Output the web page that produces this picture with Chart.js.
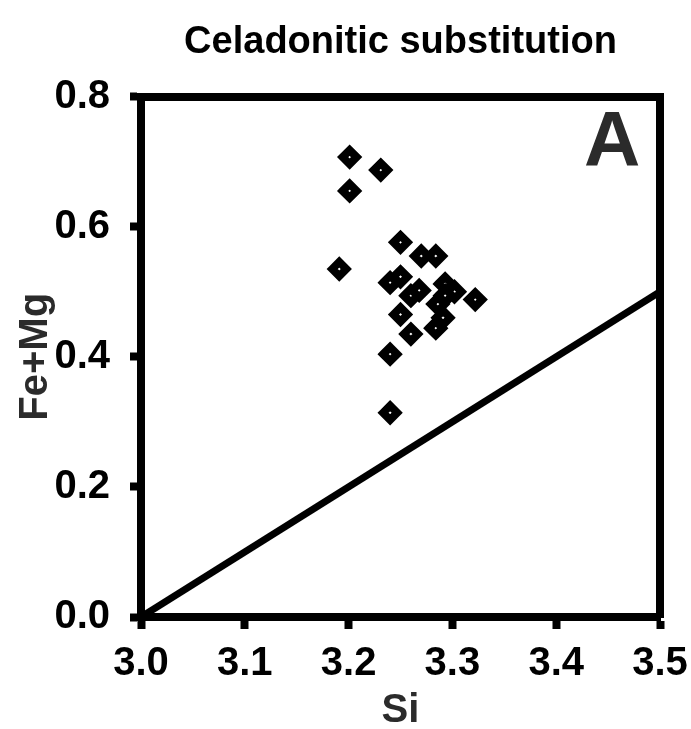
<!DOCTYPE html>
<html>
<head>
<meta charset="utf-8">
<script src="https://cdn.jsdelivr.net/npm/chart.js@4"></script>
<style>
  html, body { margin: 0; padding: 0; background: #fff; }
  #wrap { width: 691px; height: 729px; }
</style>
</head>
<body>
<div id="wrap"><canvas id="chart" width="691" height="729"></canvas></div>
<script>
// values
var chartTitle = 'Celadonitic substitution'
var xTitle = 'Si'
var yTitle = 'Fe+Mg'
var panelLabel = 'A'

var siValues = [3.201, 3.231, 3.201, 3.250, 3.270, 3.284, 3.191, 3.240, 3.250,
  3.260, 3.268, 3.293, 3.302, 3.286, 3.291, 3.293, 3.250, 3.260, 3.284, 3.322,
  3.240, 3.240]
var feMgValues = [0.707, 0.687, 0.655, 0.576, 0.555, 0.555, 0.535, 0.514, 0.523,
  0.494, 0.502, 0.512, 0.500, 0.481, 0.460, 0.494, 0.465, 0.435, 0.444, 0.488,
  0.404, 0.314]

// 1:1 celadonitic line
var lineSi = [3.0, 3.5]
var lineFeMg = [0.0, 0.5]

var xTicks = [3.0, 3.1, 3.2, 3.3, 3.4, 3.5]
var yTicks = [0.0, 0.2, 0.4, 0.6, 0.8]

// where the panel letter sits, in data units
var labelSi = 3.454
var labelFeMg = 0.726

var fontFamily = "'Liberation Sans', Arial, sans-serif"

function toPoints (xs, ys) {
  var pts = []
  for (var i = 0; i < xs.length; i++) {
    pts.push({ x: xs[i], y: ys[i] })
  }
  return pts
}

var panelLabelPlugin = {
  id: 'panelLabel',
  afterDraw: function (chart) {
    var ctx = chart.ctx
    var px = chart.scales.x.getPixelForValue(labelSi)
    var py = chart.scales.y.getPixelForValue(labelFeMg)
    ctx.save()
    ctx.font = 'bold 78px ' + fontFamily
    ctx.fillStyle = '#2b2b2b'
    ctx.textAlign = 'center'
    ctx.textBaseline = 'middle'
    ctx.fillText(panelLabel, px, py)
    ctx.restore()
  }
}

var frameOnly = {
  display: true,
  ticks: { display: false },
  grid: { display: false, drawTicks: false },
  border: { display: true, color: '#000', width: 8 }
}

new Chart(document.getElementById('chart'), {
  type: 'scatter',
  data: {
    datasets: [{
      label: 'line',
      data: toPoints(lineSi, lineFeMg),
      showLine: true,
      borderColor: '#000',
      borderWidth: 7,
      pointRadius: 4,
      pointBackgroundColor: '#000',
      pointBorderWidth: 0,
      clip: false,
      order: 2
    }, {
      label: 'samples',
      data: toPoints(siValues, feMgValues),
      pointStyle: 'rectRot',
      pointRadius: 7,
      pointBorderWidth: 8,
      pointBorderColor: '#000',
      pointBackgroundColor: '#fff',
      order: 1
    }]
  },
  options: {
    responsive: false,
    animation: false,
    layout: { padding: 0 },
    plugins: {
      legend: { display: false },
      tooltip: { enabled: false },
      title: {
        display: true,
        text: chartTitle,
        color: '#000',
        fullSize: false,
        font: { family: fontFamily, size: 38, weight: 'bold', lineHeight: 1.2 },
        padding: { top: 20, bottom: 0 }
      }
    },
    scales: {
      x: {
        type: 'linear',
        position: 'bottom',
        min: xTicks[0],
        max: xTicks[xTicks.length - 1],
        afterBuildTicks: function (scale) {
          scale.ticks = xTicks.map(function (v) { return { value: v } })
        },
        afterFit: function (scale) {
          scale.height = 112
          // keep the edge labels from shrinking the plot box
          scale.paddingLeft = 0
          scale.paddingRight = 0
        },
        ticks: {
          color: '#000',
          padding: 11,
          maxRotation: 0,
          font: { family: fontFamily, size: 40, weight: 'bold' },
          callback: function (v) { return v.toFixed(1) }
        },
        grid: { drawOnChartArea: false, drawTicks: true, tickLength: 12, tickWidth: 8, tickColor: '#000' },
        border: { display: true, color: '#000', width: 8 },
        title: {
          display: true,
          text: xTitle,
          color: '#2b2b2b',
          font: { family: fontFamily, size: 40, weight: 'bold', lineHeight: 1.2 },
          padding: { top: 0, bottom: -6 }
        }
      },
      y: {
        type: 'linear',
        position: 'left',
        min: yTicks[0],
        max: yTicks[yTicks.length - 1],
        afterBuildTicks: function (scale) {
          scale.ticks = yTicks.map(function (v) { return { value: v } })
        },
        afterFit: function (scale) {
          scale.width = 141
          scale.paddingTop = 0
          scale.paddingBottom = 0
        },
        ticks: {
          color: '#000',
          padding: 20,
          font: { family: fontFamily, size: 40, weight: 'bold' },
          callback: function (v) { return v.toFixed(1) }
        },
        grid: { drawOnChartArea: false, drawTicks: true, tickLength: 11, tickWidth: 8, tickColor: '#000' },
        border: { display: true, color: '#000', width: 8 },
        title: {
          display: true,
          text: yTitle,
          color: '#2b2b2b',
          font: { family: fontFamily, size: 40, weight: 'bold', lineHeight: 1.0 },
          padding: { top: 16, bottom: 0 }
        }
      },
      // top and right edges of the box
      xTop: Object.assign({ type: 'linear', position: 'top', min: 3.0, max: 3.5,
        afterFit: function (scale) { scale.height = 31 } }, frameOnly),
      yRight: Object.assign({ type: 'linear', position: 'right', min: 0, max: 0.8,
        afterFit: function (scale) { scale.width = 31 } }, frameOnly)
    }
  },
  plugins: [panelLabelPlugin]
})
</script>
</body>
</html>
